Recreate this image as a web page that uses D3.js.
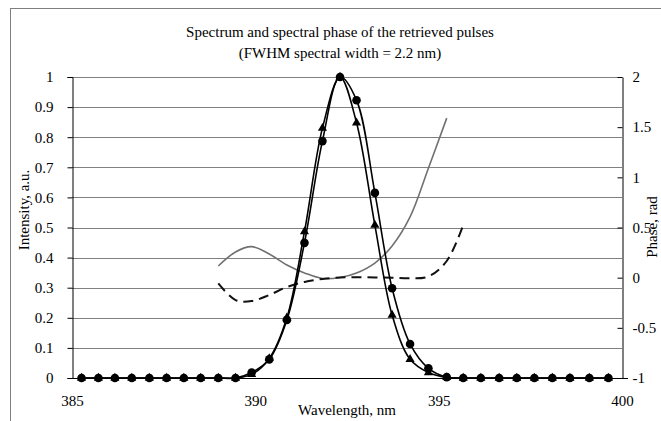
<!DOCTYPE html>
<html><head><meta charset="utf-8">
<script src="https://cdn.jsdelivr.net/npm/d3@7"></script>
<style>
html,body{margin:0;padding:0;background:#fff;}
svg{display:block;}
text{font-family:"Liberation Serif","Times New Roman",serif;fill:#000;}
</style></head>
<body><svg id="chart" width="661" height="421"></svg>
<script>
const titleLines = ["Spectrum and spectral phase of the retrieved pulses", "(FWHM spectral width = 2.2 nm)"];
const xTicks = [385, 390, 395, 400];
const yLeftTicks = [0, 0.1, 0.2, 0.3, 0.4, 0.5, 0.6, 0.7, 0.8, 0.9, 1];
const yRightTicks = [-1, -0.5, 0, 0.5, 1, 1.5, 2];
const wavelengths = [385.26, 385.72, 386.17, 386.63, 387.11, 387.58, 388.05, 388.51, 388.99, 389.46,
  389.90, 390.38, 390.86, 391.34, 391.83, 392.31, 392.76, 393.26, 393.73, 394.22,
  394.72, 395.22, 395.67, 396.15, 396.65, 397.13, 397.61, 398.10, 398.58, 399.11, 399.63];
const intensityCircles = [0, 0, 0, 0, 0, 0, 0, 0, 0, 0,
  0.018, 0.062, 0.193, 0.449, 0.787, 1.0, 0.923, 0.615, 0.298, 0.113,
  0.032, 0.003, 0, 0, 0, 0, 0, 0, 0, 0, 0];
const intensityTriangles = [0, 0, 0, 0, 0, 0, 0, 0, 0, 0,
  0.012, 0.065, 0.2, 0.486, 0.83, 1.0, 0.848, 0.508, 0.209, 0.062,
  0.018, 0.002, 0, 0, 0, 0, 0, 0, 0, 0, 0];
const phaseWavelengths = [388.99, 389.46, 389.90, 390.38, 390.86, 391.34, 391.83, 392.31, 392.76, 393.26,
  393.73, 394.22, 394.72, 395.22, 395.67];
const phaseSolid = [0.116, 0.256, 0.309, 0.236, 0.126, 0.047, -0.008, 0.002, 0.047, 0.146,
  0.316, 0.605, 1.09, 1.59];
const phaseDashed = [-0.058, -0.223, -0.233, -0.173, -0.093, -0.043, -0.013, 0.002, 0.004, 0.002,
  0.0, -0.006, 0.012, 0.166, 0.525];

const svg = d3.select("#chart");
const W = 661, H = 421;
const m = {left: 72, right: 622, top: 77, bottom: 378};
svg.append("rect").attr("width", W).attr("height", H).attr("fill", "#fff");
svg.append("rect").attr("x", 10.5).attr("y", 8.5).attr("width", 720).attr("height", 500)
  .attr("fill", "none").attr("stroke", "#7f7f7f").attr("stroke-width", 1);

const x = d3.scaleLinear().domain([385, 400]).range([m.left, m.right]);
const yL = d3.scaleLinear().domain([0, 1]).range([m.bottom, m.top]);
const yR = d3.scaleLinear().domain([-1, 2]).range([m.bottom, m.top]);

// gridlines
svg.append("g").selectAll("line").data(yLeftTicks.filter(d => d > 0)).join("line")
  .attr("x1", m.left).attr("x2", m.right)
  .attr("y1", d => Math.round(yL(d)) + 0.5).attr("y2", d => Math.round(yL(d)) + 0.5)
  .attr("stroke", "#808080").attr("stroke-width", 1);

const fmt = d => String(d);
const axL = svg.append("g").attr("transform", `translate(${m.left + 0.5},0)`)
  .call(d3.axisLeft(yL).tickValues(yLeftTicks).tickSize(5).tickPadding(14).tickFormat(fmt));
const axR = svg.append("g").attr("transform", `translate(${m.right + 0.5},0)`)
  .call(d3.axisRight(yR).tickValues(yRightTicks).tickSize(0).tickPadding(10).tickFormat(fmt));
axR.selectAll(".tick line").attr("x1", -5).attr("x2", 0);
const axB = svg.append("g").attr("transform", `translate(0,${m.bottom + 0.5})`)
  .call(d3.axisBottom(x).tickValues(xTicks).tickSize(0).tickPadding(17).tickFormat(fmt));
[axL, axR, axB].forEach(a => {
  a.select(".domain").attr("stroke", "#000");
  a.selectAll(".tick line").attr("stroke", "#000");
  a.selectAll("text").attr("font-size", 15).attr("font-family", "Liberation Serif");
});
axB.select(".domain").attr("d", `M${m.left},0H${m.right + 6}`);

// curves
const lineI = (vals) => d3.line().curve(d3.curveCatmullRom)
  .x((d, i) => x(wavelengths[i])).y(d => yL(d))(vals);
const lineP = (vals) => d3.line().curve(d3.curveCatmullRom)
  .x((d, i) => x(phaseWavelengths[i])).y(d => yR(d))(vals);

svg.append("path").attr("d", lineP(phaseSolid)).attr("fill", "none")
  .attr("stroke", "#707070").attr("stroke-width", 1.6);
svg.append("path").attr("d", lineP(phaseDashed)).attr("fill", "none")
  .attr("stroke", "#111").attr("stroke-width", 2).attr("stroke-dasharray", "10,6");

svg.append("path").attr("d", lineI(intensityTriangles)).attr("fill", "none")
  .attr("stroke", "#000").attr("stroke-width", 1.6);
svg.append("g").selectAll("path").data(intensityTriangles).join("path")
  .attr("d", d3.symbol().type(d3.symbolTriangle).size(36))
  .attr("transform", (d, i) => `translate(${x(wavelengths[i])},${yL(d)})`)
  .attr("fill", "#000");

svg.append("path").attr("d", lineI(intensityCircles)).attr("fill", "none")
  .attr("stroke", "#000").attr("stroke-width", 1.6);
svg.append("g").selectAll("circle").data(intensityCircles).join("circle")
  .attr("cx", (d, i) => x(wavelengths[i])).attr("cy", d => yL(d)).attr("r", 4.3)
  .attr("fill", "#000");

// titles
svg.append("g").selectAll("text").data(titleLines).join("text")
  .attr("x", 340).attr("y", (d, i) => 37 + i * 21).attr("text-anchor", "middle")
  .attr("font-size", 15).text(d => d);
svg.append("text").attr("x", 347).attr("y", 415).attr("text-anchor", "middle")
  .attr("font-size", 15).text("Wavelength, nm");
svg.append("text").attr("transform", "translate(29,210) rotate(-90)").attr("text-anchor", "middle")
  .attr("font-size", 15).text("Intensity, a.u.");
svg.append("text").attr("transform", "translate(657,227) rotate(-90)").attr("text-anchor", "middle")
  .attr("font-size", 15).text("Phase, rad");
</script></body></html>
